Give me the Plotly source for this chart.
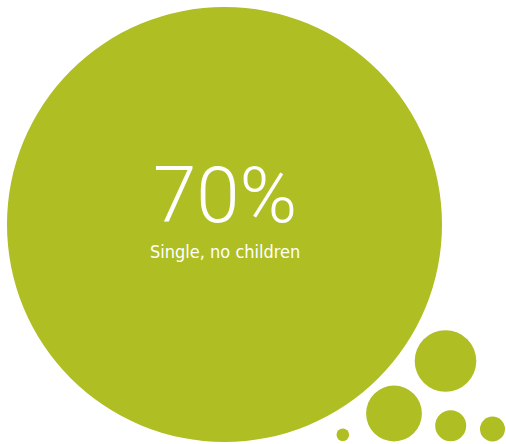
import plotly.graph_objects as go

# Bubble data (centre x, centre y, radius) in pixel-like data units
bubble_x = [224.5, 445.5, 394.0, 450.7, 492.5, 342.8]
bubble_y = [224.5, 361.0, 413.5, 425.7, 429.0, 434.8]
bubble_r = [217.5, 30.8, 27.9, 15.5, 12.5, 6.3]

value_label = "70%"
category_label = "Single, no children"

COLOR = "#AFBE23"

fig = go.Figure()
shapes = []
for x, y, r in zip(bubble_x, bubble_y, bubble_r):
    shapes.append(dict(type="circle", xref="x", yref="y",
                       x0=x - r, x1=x + r, y0=y - r, y1=y + r,
                       fillcolor=COLOR, line=dict(width=0), layer="below"))

fig.add_trace(go.Scatter(x=[bubble_x[0]], y=[bubble_y[0]], mode="markers",
                         marker=dict(opacity=0), hoverinfo="skip", showlegend=False))

fig.add_annotation(x=bubble_x[0], y=195, xref="x", yref="y", text=value_label,
                   showarrow=False, xanchor="center", yanchor="middle",
                   font=dict(family="Roboto", size=78, color="white", weight=300))
fig.add_annotation(x=bubble_x[0], y=251, xref="x", yref="y", text=category_label,
                   showarrow=False, xanchor="center", yanchor="middle",
                   font=dict(family="DejaVu Sans Condensed, Roboto", size=18, color="white"))

fig.update_layout(width=506, height=444, margin=dict(l=0, r=0, t=0, b=0),
                  paper_bgcolor="white", plot_bgcolor="white", shapes=shapes,
                  xaxis=dict(range=[0, 506], visible=False, fixedrange=True),
                  yaxis=dict(range=[444, 0], visible=False, fixedrange=True),
                  showlegend=False, hovermode=False)

fig.write_html("out.html", config={"displayModeBar": False, "staticPlot": True},
               post_script="document.body.style.margin='0';document.body.style.overflow='hidden';")
